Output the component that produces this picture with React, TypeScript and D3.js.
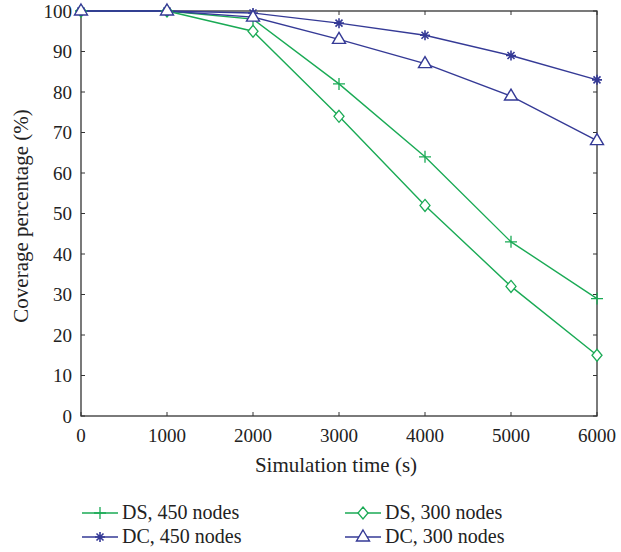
import React, { useEffect, useRef } from "react";
import * as d3 from "d3";

const times = [0, 1000, 2000, 3000, 4000, 5000, 6000];
const ds450 = [100, 100, 98, 82, 64, 43, 29];
const ds300 = [100, 100, 95, 74, 52, 32, 15];
const dc450 = [100, 100, 99.5, 97, 94, 89, 83];
const dc300 = [100, 100, 98.5, 93, 87, 79, 68];
const xTicks = [0, 1000, 2000, 3000, 4000, 5000, 6000];
const yTicks = [0, 10, 20, 30, 40, 50, 60, 70, 80, 90, 100];

const GREEN = "#1aaa55";
const BLUE = "#353a96";
const FONT = "'Liberation Serif', 'DejaVu Serif', serif";

const series = [
  { name: "DS, 450 nodes", values: ds450, color: GREEN, marker: "plus" },
  { name: "DS, 300 nodes", values: ds300, color: GREEN, marker: "diamond" },
  { name: "DC, 450 nodes", values: dc450, color: BLUE, marker: "star" },
  { name: "DC, 300 nodes", values: dc300, color: BLUE, marker: "triangle" },
];

function drawMarker(g: any, kind: string, x: number, y: number, color: string) {
  if (kind === "plus") {
    g.append("path")
      .attr("d", `M${x - 6},${y}H${x + 6}M${x},${y - 6}V${y + 6}`)
      .attr("stroke", color)
      .attr("stroke-width", 1.3)
      .attr("fill", "none");
  } else if (kind === "diamond") {
    g.append("path")
      .attr("d", `M${x},${y - 6}L${x + 5},${y}L${x},${y + 6}L${x - 5},${y}Z`)
      .attr("stroke", color)
      .attr("stroke-width", 1.3)
      .attr("fill", "white");
  } else if (kind === "star") {
    const s = 5;
    g.append("path")
      .attr(
        "d",
        `M${x - s},${y}H${x + s}M${x},${y - s}V${y + s}M${x - s * 0.7},${y - s * 0.7}L${x + s * 0.7},${y + s * 0.7}M${x - s * 0.7},${y + s * 0.7}L${x + s * 0.7},${y - s * 0.7}`
      )
      .attr("stroke", color)
      .attr("stroke-width", 1.6)
      .attr("fill", "none");
  } else if (kind === "triangle") {
    g.append("path")
      .attr("d", `M${x},${y - 7}L${x + 6.5},${y + 4}L${x - 6.5},${y + 4}Z`)
      .attr("stroke", color)
      .attr("stroke-width", 1.4)
      .attr("fill", "white");
  }
}

const Chart = () => {
  const ref = useRef<SVGSVGElement>(null);

  useEffect(() => {
    const svg = d3.select(ref.current);
    svg.selectAll("*").remove();
    const left = 81, right = 597, top = 11, bottom = 416;

    const x = d3.scaleLinear().domain([0, 6000]).range([left, right]);
    const y = d3.scaleLinear().domain([0, 100]).range([bottom, top]);

    // frame
    svg.append("rect")
      .attr("x", left).attr("y", top)
      .attr("width", right - left).attr("height", bottom - top)
      .attr("fill", "none").attr("stroke", "#333").attr("stroke-width", 1.3);

    const tickLen = 4;
    xTicks.forEach((t) => {
      svg.append("line").attr("x1", x(t)).attr("x2", x(t))
        .attr("y1", bottom).attr("y2", bottom - tickLen).attr("stroke", "#333");
      svg.append("line").attr("x1", x(t)).attr("x2", x(t))
        .attr("y1", top).attr("y2", top + tickLen).attr("stroke", "#333");
      svg.append("text").attr("x", x(t)).attr("y", 442)
        .attr("text-anchor", "middle").attr("font-family", FONT)
        .attr("font-size", 19).attr("fill", "#222").text(String(t));
    });
    yTicks.forEach((t) => {
      svg.append("line").attr("x1", left).attr("x2", left + tickLen)
        .attr("y1", y(t)).attr("y2", y(t)).attr("stroke", "#333");
      svg.append("line").attr("x1", right).attr("x2", right - tickLen)
        .attr("y1", y(t)).attr("y2", y(t)).attr("stroke", "#333");
      svg.append("text").attr("x", 72).attr("y", y(t) + 6.5)
        .attr("text-anchor", "end").attr("font-family", FONT)
        .attr("font-size", 19).attr("fill", "#222").text(String(t));
    });

    svg.append("text").attr("x", 336).attr("y", 472)
      .attr("text-anchor", "middle").attr("font-family", FONT)
      .attr("font-size", 21).attr("fill", "#222").text("Simulation time (s)");
    svg.append("text")
      .attr("transform", `translate(28,216) rotate(-90)`)
      .attr("text-anchor", "middle").attr("font-family", FONT)
      .attr("font-size", 21).attr("fill", "#222").text("Coverage percentage (%)");

    const line = d3.line<number>().x((_, i) => x(times[i])).y((d) => y(d));
    series.forEach((s) => {
      svg.append("path").datum(s.values).attr("d", line)
        .attr("fill", "none").attr("stroke", s.color).attr("stroke-width", 1.4);
    });
    series.forEach((s) => {
      const g = svg.append("g");
      s.values.forEach((v, i) => drawMarker(g, s.marker, x(times[i]), y(v), s.color));
    });

    // legend
    const legendPos = [
      { lx: 82, ly: 513 },
      { lx: 345, ly: 513 },
      { lx: 82, ly: 537 },
      { lx: 345, ly: 537 },
    ];
    series.forEach((s, i) => {
      const { lx, ly } = legendPos[i];
      const g = svg.append("g");
      g.append("line").attr("x1", lx).attr("x2", lx + 36)
        .attr("y1", ly).attr("y2", ly).attr("stroke", s.color).attr("stroke-width", 1.4);
      drawMarker(g, s.marker, lx + 18, ly, s.color);
      g.append("text").attr("x", lx + 40).attr("y", ly + 6)
        .attr("font-family", FONT).attr("font-size", 20).attr("fill", "#222")
        .text(s.name);
    });
  }, []);

  return <svg ref={ref} width={621} height={552} style={{ display: "block" }} />;
};

export default function App() {
  return (
    <div style={{ position: "fixed", left: 0, top: 0, width: 621, height: 552, overflow: "hidden", background: "white" }}>
      <Chart />
    </div>
  );
}
